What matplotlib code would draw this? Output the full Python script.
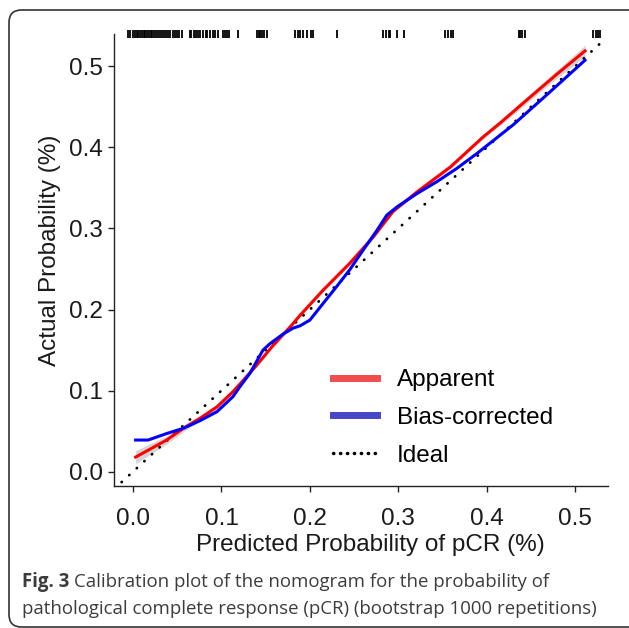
import matplotlib
matplotlib.use('Agg')
import matplotlib.pyplot as plt
from matplotlib.lines import Line2D
from matplotlib.patches import FancyBboxPatch
import numpy as np

# Calibration curves
app_x = [0.003, 0.038, 0.057, 0.076, 0.095, 0.113, 0.125, 0.140, 0.157, 0.178, 0.189,
         0.215, 0.245, 0.272, 0.294, 0.321, 0.359, 0.396, 0.415, 0.450, 0.480, 0.511]
app_y = [0.018, 0.039, 0.0535, 0.066, 0.080, 0.0987, 0.113, 0.1316, 0.154, 0.179, 0.193,
         0.224, 0.257, 0.290, 0.321, 0.345, 0.376, 0.413, 0.430, 0.463, 0.491, 0.519]
app_band = [0.008, 0.005, 0.004, 0.003, 0.003, 0.002, 0.002, 0.002, 0.002, 0.002, 0.002,
            0.002, 0.002, 0.002, 0.002, 0.002, 0.002, 0.002, 0.003, 0.004, 0.005, 0.007]

bias_x = [0.003, 0.017, 0.038, 0.057, 0.076, 0.095, 0.113, 0.121, 0.132, 0.147, 0.155,
          0.170, 0.181, 0.189, 0.200, 0.212, 0.230, 0.245, 0.260, 0.276, 0.287, 0.299,
          0.321, 0.344, 0.366, 0.389, 0.415, 0.430, 0.470, 0.511]
bias_y = [0.039, 0.039, 0.047, 0.0535, 0.063, 0.074, 0.0925, 0.105, 0.121, 0.150, 0.158,
          0.170, 0.177, 0.180, 0.187, 0.2035, 0.228, 0.249, 0.273, 0.298, 0.3165, 0.327,
          0.343, 0.358, 0.374, 0.3926, 0.415, 0.428, 0.467, 0.5075]

ideal = [-0.03, 0.53]

# distribution of predicted probabilities (rug on top)
rug_x = [-0.006, -0.003, 0.000, 0.002, 0.004, 0.006, 0.008, 0.010, 0.012, 0.014, 0.016,
         0.018, 0.020, 0.022, 0.024, 0.026, 0.028, 0.030, 0.033, 0.035, 0.037, 0.040,
         0.042, 0.045, 0.047, 0.050, 0.052, 0.055,
         0.064, 0.066, 0.069, 0.071, 0.074, 0.076, 0.079, 0.082, 0.084, 0.087, 0.090,
         0.093, 0.096,
         0.102, 0.104, 0.106, 0.109, 0.119,
         0.140, 0.142, 0.144, 0.146, 0.148, 0.151,
         0.183, 0.186, 0.189, 0.192, 0.197, 0.201, 0.204, 0.231,
         0.283, 0.286, 0.289, 0.291, 0.299, 0.306,
         0.353, 0.356, 0.359, 0.362,
         0.436, 0.438, 0.440, 0.443,
         0.520, 0.523, 0.526, 0.528]

ticks = [0.0, 0.1, 0.2, 0.3, 0.4, 0.5]
tick_labels = ['0.0', '0.1', '0.2', '0.3', '0.4', '0.5']

plt.rcParams['font.family'] = ['Liberation Sans', 'DejaVu Sans']

fig = plt.figure(figsize=(6.29, 6.28), dpi=100)
ax = fig.add_axes([0.1812, 0.2266, 0.7854, 0.7272])

ax.fill_between(app_x, np.array(app_y) - np.array(app_band), np.array(app_y) + np.array(app_band),
                color='#d4d4d4', lw=0, zorder=1)
ax.plot(ideal, ideal, color='black', lw=2.0, linestyle=(0, (0.1, 3.6)),
        dash_capstyle='round', zorder=2)
ax.plot(app_x, app_y, color='#ff0000', lw=2.2, zorder=3)
ax.plot(bias_x, bias_y, color='#0000ff', lw=2.2, zorder=4)
ax.vlines(rug_x, 0.535, 0.545, color='black', lw=1.3, clip_on=False)

ax.set_xlim(-0.0215, 0.537)
ax.set_ylim(-0.0173, 0.546)
ax.spines['top'].set_visible(False)
ax.spines['right'].set_visible(False)
ax.spines['left'].set_bounds(-0.0173, 0.540)
for s in ['left', 'bottom']:
    ax.spines[s].set_color('#222222')
    ax.spines[s].set_linewidth(1.0)

ax.set_xticks(ticks)
ax.set_xticklabels(tick_labels)
ax.set_yticks(ticks)
ax.set_yticklabels(tick_labels)
ax.tick_params(axis='both', direction='out', length=4, width=1.0, colors='#222222',
               labelsize=17.5, labelcolor='#1a1a1a')
ax.tick_params(axis='x', pad=12)
ax.tick_params(axis='y', pad=4)

ax.set_xlabel('Predicted Probability of pCR (%)', fontsize=17.5, color='#1a1a1a')
ax.xaxis.set_label_coords(0.52, -0.106)
ax.set_ylabel('Actual Probability (%)', fontsize=17.5, color='#1a1a1a')
ax.yaxis.set_label_coords(-0.108, 0.516)

handles = [Line2D([0], [0], color='#f24d4d', lw=5),
           Line2D([0], [0], color='#4646c6', lw=5),
           Line2D([0], [0], color='black', lw=2.5, linestyle=(0, (0.1, 1.9)), dash_capstyle='round')]
ax.legend(handles, ['Apparent', 'Bias-corrected', 'Ideal'], loc='upper left',
          bbox_to_anchor=(0.5294, 0.4124), bbox_transform=fig.transFigure,
          frameon=False, fontsize=17.5, handlelength=1.8, handletextpad=0.82,
          labelspacing=0.65, borderpad=0, borderaxespad=0)

# journal frame and caption
frame = FancyBboxPatch((9 / 629, 1 - 627 / 628), 645 / 629, 617 / 628,
                       boxstyle='round,pad=0,rounding_size=0.02',
                       transform=fig.transFigure, fill=False, ec='#333333', lw=1.2,
                       clip_on=False)
fig.patches.append(frame)

cap_font = ['Open Sans', 'DejaVu Sans']
t1 = fig.text(22 / 629, 0.0648, 'Fig. 3', fontsize=13.4, fontweight='bold',
              family=cap_font, color='#3c3c3c', va='baseline')
fig.canvas.draw()
bb = t1.get_window_extent()
fig.text(bb.x1 / 629 + 0.007, 0.0648,
         'Calibration plot of the nomogram for the probability of',
         fontsize=13.4, family=cap_font, color='#3c3c3c', va='baseline')
fig.text(22 / 629, 0.0223,
         'pathological complete response (pCR) (bootstrap 1000 repetitions)',
         fontsize=13.4, family=cap_font, color='#3c3c3c', va='baseline')

fig.savefig('out.png', dpi=100)
